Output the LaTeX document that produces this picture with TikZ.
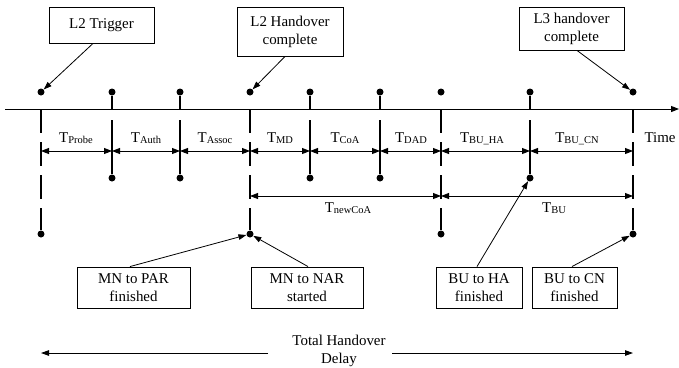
\documentclass[tikz,border=0pt]{standalone}
\usepackage{fontspec}
\setmainfont{Liberation Serif}
\usetikzlibrary{arrows.meta,calc}
\newcommand\Tx[1]{T\raisebox{-1.5bp}{\fontsize{10.5}{10.5}\selectfont #1}}
\begin{document}
\begin{tikzpicture}[x=1bp,y=-1bp,font=\fontsize{15}{18}\selectfont,
  dotn/.style={circle,fill,inner sep=0pt,minimum size=7bp},
  box/.style={draw,line width=0.9bp,align=center,inner sep=0pt},
  ln/.style={line width=1.1bp},
  dim/.style={line width=0.9bp,{Triangle[length=8bp,width=6bp]}-{Triangle[length=8bp,width=6bp]}},
  ptr/.style={line width=0.8bp,-{Triangle[length=8bp,width=5.5bp]}},
  dsh/.style={line width=1.1bp,dash pattern=on 24bp off 9bp},
  lbl/.style={inner sep=0pt,anchor=base}]
\useasboundingbox (0,0) rectangle (679,367);

% time axis
\coordinate (ax0) at (5,109);
\coordinate (ax1) at (679,109);
\draw[line width=1bp,-{Triangle[length=8bp,width=6bp]}] (ax0) -- (ax1);

% type A ticks (dot above, long dashed line below)
\foreach \i/\x in {1/41,4/250,7/441,9/633}{
  \node[dotn] (u\i) at (\x,92) {};
  \coordinate (a\i) at (\x,109);
  \node[dotn] (l\i) at (\x,234) {};
  \draw[dsh] (a\i) -- (l\i);
  \coordinate (m\i) at (\x,151);
}
% type B ticks (stem above, short segment below)
\foreach \i/\x in {2/112,3/180,5/310,6/380,8/530}{
  \node[dotn] (u\i) at (\x,92) {};
  \coordinate (a\i) at (\x,109);
  \draw[ln] (u\i) -- (a\i);
  \coordinate (s\i) at (\x,120);
  \node[dotn] (l\i) at (\x,178) {};
  \draw[ln] (s\i) -- (l\i);
  \coordinate (m\i) at (\x,151);
}

% first row of intervals
\draw[dim] (m1) -- (m2);
\draw[dim] (m2) -- (m3);
\draw[dim] (m3) -- (m4);
\draw[dim] (m4) -- (m5);
\draw[dim] (m5) -- (m6);
\draw[dim] (m6) -- (m7);
\draw[dim] (m7) -- (m8);
\draw[dim] (m8) -- (m9);

\node[lbl] (tprobe) at (76,142) {\Tx{Probe}};
\node[lbl] (tauth) at (146,142) {\Tx{Auth}};
\node[lbl] (tassoc) at (215,142) {\Tx{Assoc}};
\node[lbl] (tmd) at (280,142) {\Tx{MD}};
\node[lbl] (tcoa) at (345,142) {\Tx{CoA}};
\node[lbl] (tdad) at (411,142) {\Tx{DAD}};
\node[lbl] (tbuha) at (482,142) {\Tx{BU\_HA}};
\node[lbl] (tbucn) at (577,142) {\Tx{BU\_CN}};
\node[lbl] (time) at (660,142) {Time};

% second row of intervals
\coordinate (n4) at (250,196);
\coordinate (n7) at (441,196);
\coordinate (n9) at (633,196);
\draw[dim] (n4) -- (n7);
\draw[dim] (n7) -- (n9);
\node[lbl] (tnewcoa) at (348,212) {\Tx{newCoA}};
\node[lbl] (tbu) at (554,212) {\Tx{BU}};

% boxes
\node[box,minimum width=105bp,minimum height=36bp] (l2t) at (101.5,25) {L2 Trigger};
\node[box,minimum width=106bp,minimum height=49bp] (l2h) at (290,31.5) {L2 Handover\\complete};
\node[box,minimum width=105bp,minimum height=43bp] (l3h) at (571.5,28.5) {L3 handover\\complete};
\node[box,minimum width=113bp,minimum height=41bp] (mnpar) at (133.5,287.5) {MN to PAR\\finished};
\node[box,minimum width=112bp,minimum height=41bp] (mnnar) at (307,287.5) {MN to NAR\\started};
\node[box,minimum width=86bp,minimum height=41bp] (buha) at (479,287.5) {BU to HA\\finished};
\node[box,minimum width=85bp,minimum height=41bp] (bucn) at (574.5,287.5) {BU to CN\\finished};

% pointers
\draw[ptr] ([xshift=-8.5bp]l2t.south) -- (u1);
\draw[ptr] ([xshift=-5bp]l2h.south) -- (u4);
\draw[ptr] ([xshift=5.5bp]l3h.south) -- (u9);
\draw[ptr] ([xshift=-3.5bp]mnpar.north) -- (l4);
\draw[ptr] ([xshift=1bp]mnnar.north) -- (l4);
\draw[ptr] ([xshift=-2bp]buha.north) -- (l8);
\draw[ptr] ([xshift=-2.5bp]bucn.north) -- (l9);

% total handover delay
\node[align=center,inner sep=0pt] (total) at (339,351) {Total Handover\\Delay};
\coordinate (tl0) at (268,353);
\coordinate (tl1) at (41,353);
\coordinate (tr0) at (392,353);
\coordinate (tr1) at (633,353);
\draw[ptr,line width=0.9bp] (tl0) -- (tl1);
\draw[ptr,line width=0.9bp] (tr0) -- (tr1);
\end{tikzpicture}
\end{document}
